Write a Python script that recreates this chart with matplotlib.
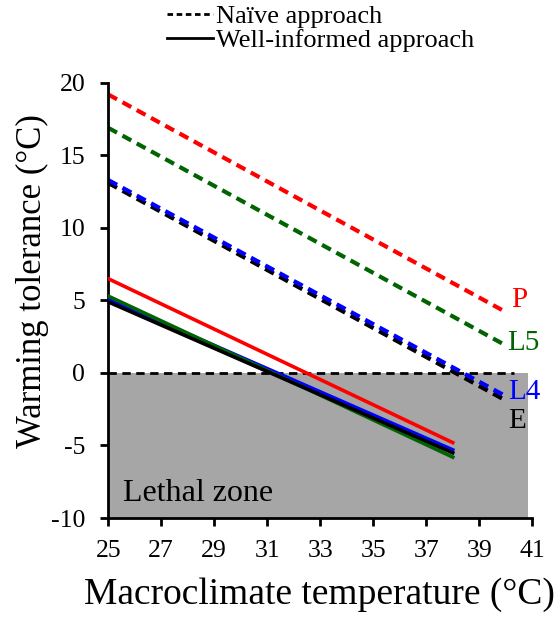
import matplotlib
matplotlib.use("Agg")
import matplotlib.pyplot as plt
from matplotlib.lines import Line2D

plt.rcParams['font.family'] = ['Liberation Serif', 'DejaVu Serif']
plt.rcParams['axes.unicode_minus'] = False

stages = ["P", "L5", "L4", "E"]
colors = ["#ff0000", "#006400", "#0000ff", "#000000"]
naive_x = [25, 40]
naive_start = [19.2, 16.9, 13.3, 13.1]
naive_end = [4.2, 1.9, -1.6, -1.9]
informed_x = [25, 38]
informed_start = [6.5, 5.3, 5.1, 4.9]
informed_end = [-4.8, -5.8, -5.3, -5.5]
xticks = [25, 27, 29, 31, 33, 35, 37, 39, 41]
yticks = [-10, -5, 0, 5, 10, 15, 20]

W, H = 555, 623
fig = plt.figure(figsize=(W / 100, H / 100), dpi=100)
ax = fig.add_axes([0.195, 0.1685, 0.764, 0.6985])

ax.fill_between([25, 40.85], -10, 0, color="#a6a6a6", zorder=0, linewidth=0)
ax.plot([25, 40.3], [0, 0], color="black", linestyle=(0, (3, 2)), linewidth=2, zorder=1)
ax.text(25.55, -8.3, "Lethal zone", fontsize=23, color="black", va="center")

for i in [0, 1, 3, 2]:
    ax.plot(naive_x, [naive_start[i], naive_end[i]], color=colors[i],
            linestyle=(0, (2.4, 1.5)), linewidth=3, zorder=2)
for i in [0, 2, 1, 3]:
    ax.plot(informed_x, [informed_start[i], informed_end[i]], color=colors[i],
            linewidth=2.6, zorder=3)

label_pos = [(40.2, 5.0), (40.05, 2.1), (40.1, -1.3), (40.1, -3.3)]
for i, s in enumerate(stages):
    ax.text(label_pos[i][0], label_pos[i][1], s, color=colors[i], fontsize=21,
            va="center", ha="left")

ax.set_xlim(25, 41)
ax.set_ylim(-10, 20)
ax.set_xticks(xticks)
ax.set_yticks(yticks)
ax.tick_params(labelsize=18.5, direction="out", length=6, width=2)
ax.tick_params(axis="x", pad=10)
ax.tick_params(axis="y", pad=10.5)
for sp in ["top", "right"]:
    ax.spines[sp].set_visible(False)
for sp in ["left", "bottom"]:
    ax.spines[sp].set_linewidth(2)

fig.text(319 / W, 1 - 595 / H, "Macroclimate temperature (°C)", fontsize=27,
         ha="center", va="center")
fig.text(32 / W, 1 - 281 / H, "Warming tolerance (°C)", fontsize=25,
         ha="center", va="center", rotation=90)

handles = [Line2D([], [], color="black", linestyle=(0, (2, 1.3)), linewidth=2),
           Line2D([], [], color="black", linewidth=2)]
fig.legend(handles, ["Naïve approach", "Well-informed approach"],
           loc="upper left", bbox_to_anchor=(0.301, 0.992), frameon=False,
           fontsize=19, handlelength=1.75, handletextpad=0.1, labelspacing=0.0,
           borderpad=0.0, borderaxespad=0.0)

fig.savefig("out.png", dpi=100)
